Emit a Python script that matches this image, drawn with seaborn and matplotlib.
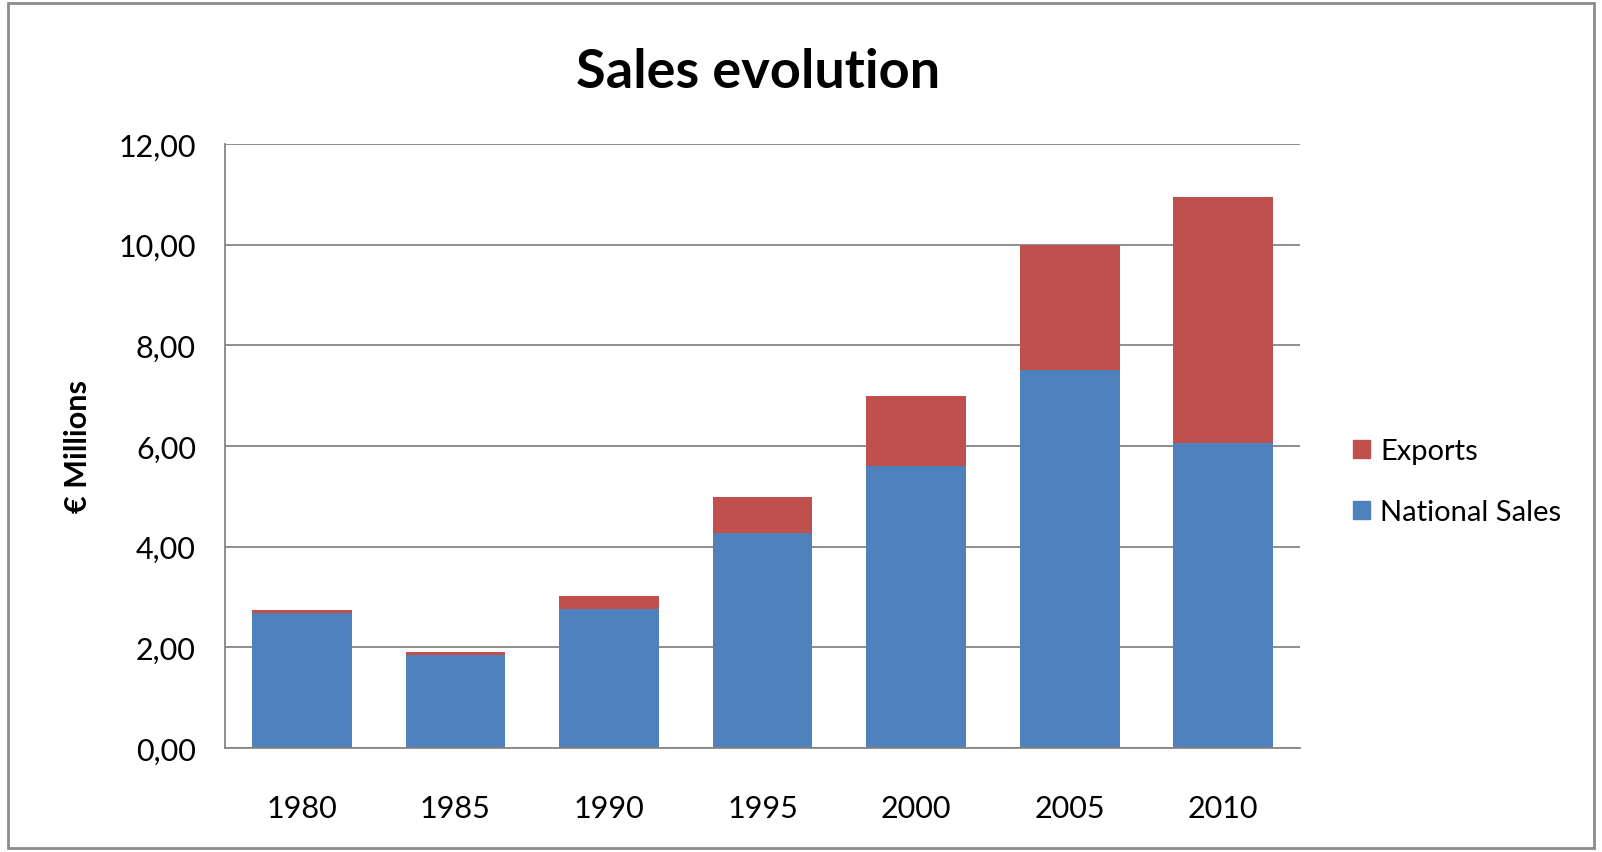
import pandas as pd
import matplotlib.pyplot as plt
import seaborn as sns
from matplotlib.patches import Patch, Rectangle
from matplotlib.ticker import FuncFormatter


years = ["1980", "1985", "1990", "1995", "2000", "2005", "2010"]
national_sales = [2.68, 1.85, 2.76, 4.27, 5.60, 7.50, 6.05]
exports = [0.06, 0.05, 0.25, 0.72, 1.40, 2.50, 4.90]

blue = "#4F81BD"
red = "#C0504D"

df = pd.DataFrame({"year": years, "national": national_sales, "exports": exports})
df["total"] = df["national"] + df["exports"]

sns.set_theme(style="white")
plt.rcParams["font.family"] = ["Lato", "DejaVu Sans"]
plt.rcParams["text.color"] = "black"
plt.rcParams["xtick.color"] = "black"
plt.rcParams["ytick.color"] = "black"

fig = plt.figure(figsize=(16.02, 8.53), dpi=100)
ax = fig.add_axes([0.1405, 0.122, 0.671, 0.708])

# stacked: total in red first, national in blue over it
sns.barplot(data=df, x="year", y="total", color=red, width=0.65, saturation=1, linewidth=0, ax=ax)
sns.barplot(data=df, x="year", y="national", color=blue, width=0.65, saturation=1, linewidth=0, ax=ax)

ax.set_ylim(0, 12)
ax.set_yticks(range(0, 13, 2))
ax.yaxis.set_major_formatter(FuncFormatter(lambda v, p: f"{v:.2f}".replace(".", ",")))
ax.grid(axis="y", color="#868686", linewidth=1.3)
ax.set_axisbelow(True)
for s in ["top", "right"]:
    ax.spines[s].set_visible(False)
for s in ["left", "bottom"]:
    ax.spines[s].set_color("#868686")
    ax.spines[s].set_linewidth(1.3)
ax.tick_params(axis="y", left=False, pad=15)
ax.tick_params(axis="x", bottom=False, pad=27)
ax.tick_params(labelsize=22, labelcolor="black")
ax.set_xlabel("")
ax.set_ylabel("")
fig.text(0.049, 0.477, "€ Millions", rotation=90, ha="center", va="center",
         fontsize=22, fontweight="bold")

fig.text(0.473, 0.915, "Sales evolution", ha="center", va="center", fontsize=39, fontweight="bold")

handles = [Patch(color=red, label="Exports"), Patch(color=blue, label="National Sales")]
fig.legend(handles=handles, loc="center left", bbox_to_anchor=(0.828, 0.434), frameon=False,
           fontsize=21, handlelength=0.6, handleheight=0.6, labelspacing=1.2, handletextpad=0.35)

fig.patches.append(Rectangle((0.005, 0.005), 0.99, 0.99, transform=fig.transFigure,
                             fill=False, edgecolor="#8c8c8c", linewidth=2))

fig.savefig("out.png", dpi=100)
